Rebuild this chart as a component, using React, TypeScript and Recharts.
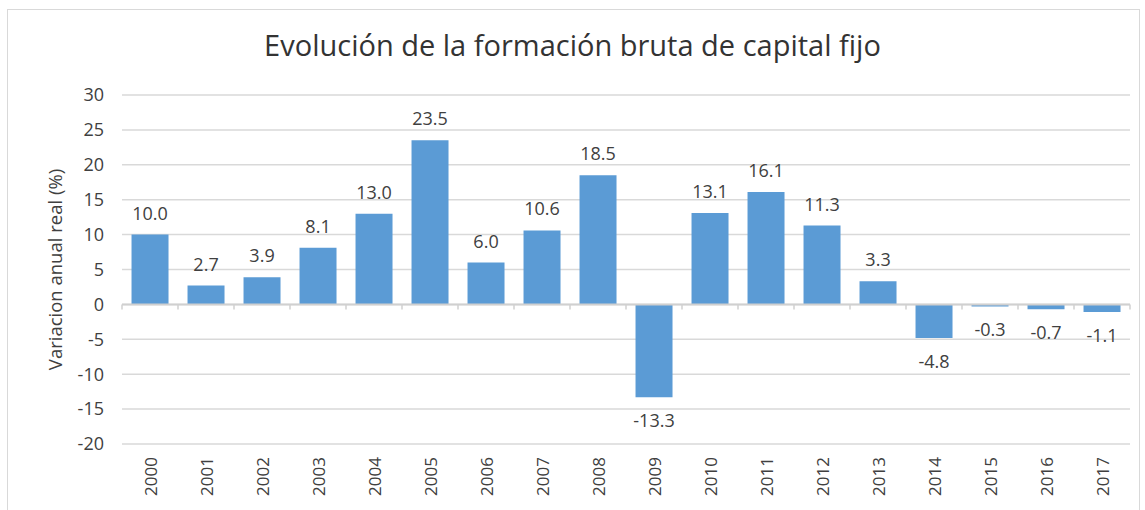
import React from "react";
import {
  BarChart,
  Bar,
  XAxis,
  YAxis,
  CartesianGrid,
  ReferenceLine,
  LabelList,
} from "recharts";

const years = [
  "2000", "2001", "2002", "2003", "2004", "2005", "2006", "2007", "2008",
  "2009", "2010", "2011", "2012", "2013", "2014", "2015", "2016", "2017",
];
const variation = [
  10.0, 2.7, 3.9, 8.1, 13.0, 23.5, 6.0, 10.6, 18.5, -13.3, 13.1, 16.1, 11.3,
  3.3, -4.8, -0.3, -0.7, -1.1,
];
const yTicks = [30, 25, 20, 15, 10, 5, 0, -5, -10, -15, -20];

const data = years.map((y, i) => ({ year: y, value: variation[i] }));

const FONT = "'Open Sans', 'Liberation Sans', sans-serif";

const XTick = (props: any) => {
  const { x, y, payload } = props;
  return (
    <text
      x={x}
      y={y}
      transform={`rotate(-90, ${x}, ${y})`}
      textAnchor="end"
      dominantBaseline="central"
      fill="#404040"
      fontSize={17}
      fontFamily={FONT}
    >
      {payload.value}
    </text>
  );
};

const ValueLabel = (props: any) => {
  const { x, y, width, height, value } = props;
  const top = Math.min(y, y + height);
  const bottom = Math.max(y, y + height);
  const cx = x + width / 2;
  const positive = value >= 0;
  return (
    <text
      x={cx}
      y={positive ? top - 22 : bottom + 23}
      textAnchor="middle"
      dominantBaseline="central"
      fill="#404040"
      fontSize={18}
      fontFamily={FONT}
    >
      {Number(value).toFixed(1)}
    </text>
  );
};

const ZeroLine = (props: any) => {
  const { x1, x2, y1 } = props;
  const n = years.length;
  const step = (x2 - x1) / n;
  const ticks = [];
  for (let i = 0; i <= n; i++) {
    const tx = x1 + i * step;
    ticks.push(
      <line key={i} x1={tx} x2={tx} y1={y1} y2={y1 + 5} stroke="#d0d0d0" strokeWidth={1.5} />
    );
  }
  return (
    <g>
      <line x1={x1} x2={x2} y1={y1} y2={y1} stroke="#d0d0d0" strokeWidth={2} />
      {ticks}
    </g>
  );
};

export default function App() {
  return (
    <div
      style={{
        position: "absolute",
        left: 0,
        top: 0,
        width: 1145,
        height: 510,
        background: "#ffffff",
      }}
    >
      <div
        style={{
          position: "absolute",
          left: 7,
          top: 9,
          width: 1133,
          height: 510,
          border: "1px solid #d9d9d9",
          boxSizing: "border-box",
        }}
      />
      <div
        style={{
          position: "absolute",
          left: 0,
          top: 25,
          width: 1145,
          textAlign: "center",
          fontFamily: FONT,
          fontSize: 29,
          color: "#333333",
        }}
      >
        Evolución de la formación bruta de capital fijo
      </div>
      <div style={{ position: "absolute", left: 0, top: 0 }}>
        <BarChart
          width={1145}
          height={510}
          data={data}
          margin={{ top: 95, right: 15, left: 0, bottom: 0 }}
          barCategoryGap="17%"
        >
          <CartesianGrid vertical={false} stroke="#d9d9d9" strokeWidth={1.5} />
          <XAxis
            dataKey="year"
            height={66}
            axisLine={false}
            tickLine={false}
            tick={<XTick />}
            tickMargin={7}
            interval={0}
          />
          <YAxis
            width={122}
            domain={[-20, 30]}
            ticks={yTicks}
            axisLine={false}
            tickLine={false}
            tickMargin={12}
            interval={0}
            tick={{ fill: "#404040", fontSize: 18, fontFamily: FONT }}
            label={{
              value: "Variacion anual real (%)",
              angle: -90,
              position: "insideLeft",
              dx: 50,
              dy: 0,
              style: {
                textAnchor: "middle",
                fill: "#404040",
                fontSize: 18.5,
                fontFamily: FONT,
              },
            }}
          />
          <ReferenceLine y={0} shape={<ZeroLine />} />
          <Bar dataKey="value" fill="#5b9bd5" isAnimationActive={false}>
            <LabelList dataKey="value" content={<ValueLabel />} />
          </Bar>
        </BarChart>
      </div>
    </div>
  );
}
